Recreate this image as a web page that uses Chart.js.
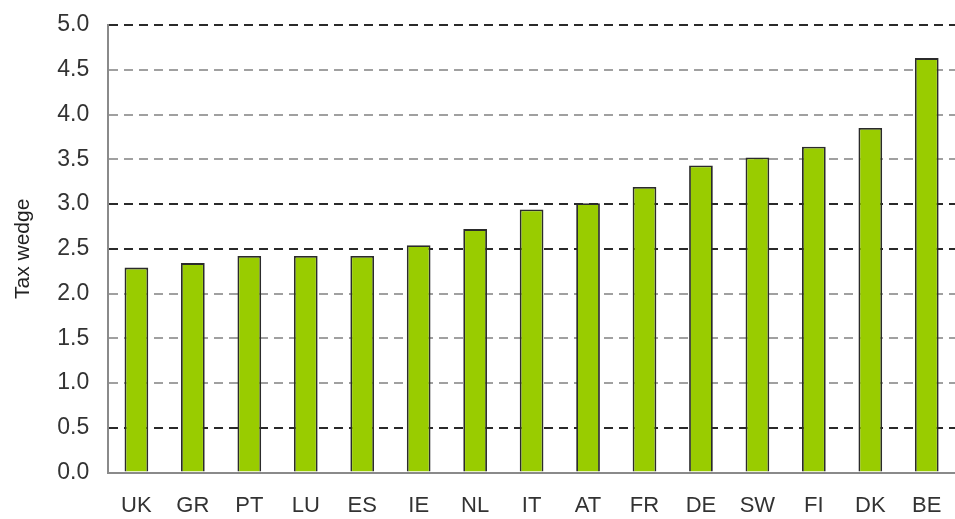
<!DOCTYPE html>
<html>
<head>
<meta charset="utf-8">
<script src="https://cdn.jsdelivr.net/npm/chart.js@4"></script>
<style>
  html, body { margin: 0; padding: 0; background: #fff; }
  #wrap { width: 955px; height: 519px; position: relative; }
</style>
</head>
<body>
<div id="wrap"><canvas id="grafico"></canvas></div>
<script>
// country codes, left to right
const paises = ['UK', 'GR', 'PT', 'LU', 'ES', 'IE', 'NL', 'IT', 'AT', 'FR', 'DE', 'SW', 'FI', 'DK', 'BE'];
// tax wedge per country
const taxWedge = [2.29, 2.34, 2.42, 2.42, 2.42, 2.54, 2.72, 2.94, 3.01, 3.19, 3.43, 3.52, 3.64, 3.85, 4.63];
// gridlines that come out darker in the picture
const linhasEscuras = [5.0, 3.0, 2.5, 0.5];

const fonte = 'Liberation Sans, Arial, sans-serif';
const ctx = document.getElementById('grafico');

const chart = new Chart(ctx, {
    type: 'bar',
    data: {
        labels: paises,
        datasets: [{
            label: 'Tax wedge',
            data: taxWedge,
            backgroundColor: '#99cc00',
            borderColor: '#2b2b2b',
            borderWidth: 1.8,
            borderSkipped: 'bottom',
            barPercentage: 0.42,
            categoryPercentage: 1.0
        }]
    },
    options: {
        responsive: true,
        maintainAspectRatio: false,
        animation: false,
        layout: {
            padding: { top: 25, right: 0, bottom: -20, left: 11 }
        },
        plugins: {
            legend: { display: false },
            tooltip: { enabled: false }
        },
        scales: {
            x: {
                afterFit: s => { s.paddingLeft = 0; s.paddingRight = 0; },
                grid: { display: false, drawTicks: false },
                border: { display: true, color: '#8a8a8a', width: 2 },
                ticks: {
                    color: '#333',
                    padding: 20,
                    font: { family: fonte, size: 22 }
                }
            },
            y: {
                min: 0,
                max: 5,
                afterFit: s => { s.paddingTop = 0; s.paddingBottom = 0; },
                ticks: {
                    stepSize: 0.5,
                    color: '#333',
                    padding: 19,
                    font: { family: fonte, size: 23 },
                    callback: v => v.toFixed(1)
                },
                grid: {
                    drawTicks: false,
                    lineWidth: 2,
                    color: c => {
                        if (c.tick.value === 0) return 'rgba(0,0,0,0)';
                        return linhasEscuras.includes(c.tick.value) ? '#2a2a2a' : '#a0a0a0';
                    }
                },
                border: { display: true, color: '#8a8a8a', width: 2, dash: [9, 6] },
                title: {
                    display: true,
                    text: 'Tax wedge',
                    color: '#222',
                    padding: { top: 0, bottom: 2 },
                    font: { family: fonte, size: 21 }
                }
            }
        }
    }
});
</script>
</body>
</html>
